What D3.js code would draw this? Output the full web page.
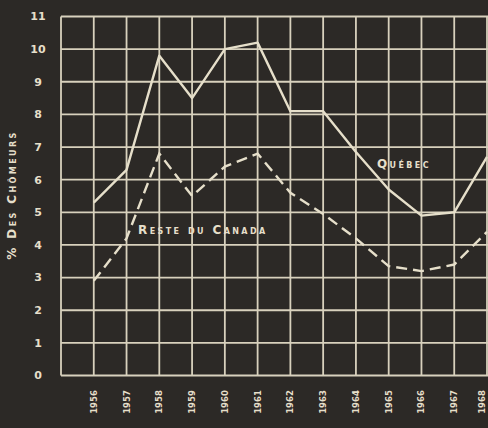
<!DOCTYPE html>
<html>
<head>
<meta charset="utf-8">
<script src="https://cdn.jsdelivr.net/npm/d3@7"></script>
<style>
  body { margin: 0; background: #2c2926; }
  svg text { fill: #e6dfca; font-family: "DejaVu Sans", sans-serif; }
</style>
</head>
<body>
<div id="chart"></div>
<script>
// years shown on the x axis
var years = [1956, 1957, 1958, 1959, 1960, 1961, 1962, 1963, 1964, 1965, 1966, 1967, 1968];
// unemployment rate, %
var quebec = [5.3, 6.3, 9.8, 8.5, 10.0, 10.2, 8.1, 8.1, 6.85, 5.7, 4.9, 5.0, 6.7];
var resteCanada = [2.9, 4.2, 6.8, 5.5, 6.4, 6.8, 5.6, 4.95, 4.2, 3.35, 3.2, 3.4, 4.4];
var yTicks = [0, 1, 2, 3, 4, 5, 6, 7, 8, 9, 10, 11];

(function() {
    var width = 488, height = 428;
    var ink = "#d8d1bd";

    var svg = d3.select("#chart").append("svg")
        .attr("width", width)
        .attr("height", height);

    svg.append("rect")
        .attr("width", width)
        .attr("height", height)
        .attr("fill", "#2c2926");

    //scales - grid starts one year before first label
    var x = d3.scaleLinear().domain([1955, 1968]).range([61, 487]);
    var y = d3.scaleLinear().domain([0, 11]).range([375.5, 16.5]);

    //grid
    var grid = svg.append("g").attr("stroke", ink).attr("stroke-width", 1.8);
    grid.selectAll(".h")
        .data(yTicks)
        .enter().append("line")
        .attr("x1", x(1955)).attr("x2", x(1968) + 2)
        .attr("y1", function(d) { return y(d); })
        .attr("y2", function(d) { return y(d); });
    grid.selectAll(".v")
        .data([1955].concat(years))
        .enter().append("line")
        .attr("y1", y(0)).attr("y2", y(11))
        .attr("x1", function(d) { return x(d); })
        .attr("x2", function(d) { return x(d); });

    //y tick labels
    svg.selectAll(".ylab")
        .data(yTicks)
        .enter().append("text")
        .attr("x", 38)
        .attr("y", function(d) { return y(d); })
        .attr("dy", "0.35em")
        .attr("text-anchor", "middle")
        .attr("font-size", 11)
        .attr("font-weight", "bold")
        .text(function(d) { return d; });

    //x tick labels (rotated), last one kept inside the page
    svg.selectAll(".xlab")
        .data(years)
        .enter().append("text")
        .attr("transform", function(d) {
            return "translate(" + Math.min(x(d), 482) + ",402) rotate(-90)";
        })
        .attr("dy", "0.35em")
        .attr("text-anchor", "middle")
        .attr("font-size", 8.5)
        .attr("font-weight", "bold")
        .text(function(d) { return d; });

    //axis title
    svg.append("text")
        .attr("transform", "translate(12,195) rotate(-90)")
        .attr("dy", "0.35em")
        .attr("text-anchor", "middle")
        .attr("font-size", 12)
        .attr("font-weight", "bold")
        .attr("letter-spacing", 2.4)
        .style("font-variant", "small-caps")
        .text("% Des Chômeurs");

    //lines
    var line = d3.line()
        .x(function(d, i) { return x(years[i]); })
        .y(function(d) { return y(d); });

    svg.append("path")
        .attr("d", line(quebec))
        .attr("fill", "none")
        .attr("stroke", "#e6dfca")
        .attr("stroke-width", 2.4)
        .attr("stroke-linejoin", "round");

    svg.append("path")
        .attr("d", line(resteCanada))
        .attr("fill", "none")
        .attr("stroke", "#e6dfca")
        .attr("stroke-width", 2.4)
        .attr("stroke-dasharray", "11,6");

    //series labels
    svg.append("text")
        .attr("x", 377).attr("y", 168)
        .attr("font-size", 12)
        .attr("font-weight", "bold")
        .attr("letter-spacing", 2.4)
        .style("font-variant", "small-caps")
        .text("Québec");

    svg.append("text")
        .attr("x", 138).attr("y", 234)
        .attr("font-size", 12)
        .attr("font-weight", "bold")
        .attr("letter-spacing", 2.4)
        .style("font-variant", "small-caps")
        .text("Reste du Canada");
})();
</script>
</body>
</html>
